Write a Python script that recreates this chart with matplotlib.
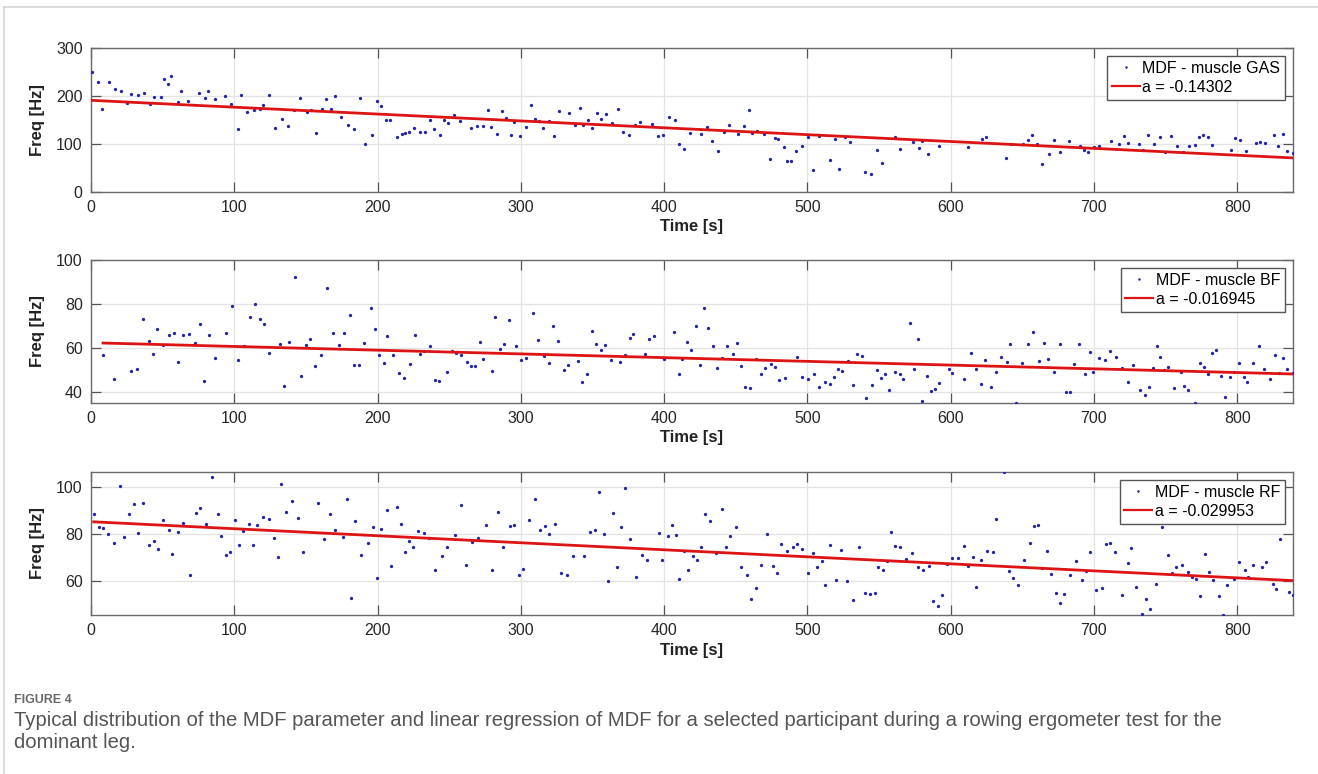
import numpy as np
import matplotlib
matplotlib.use('Agg')
import matplotlib.pyplot as plt
from matplotlib.lines import Line2D

plt.rcParams['font.family'] = ['Liberation Sans', 'DejaVu Sans']

# --- data ---
gas_t = [0.5, 5.1, 7.7, 12.3, 16.7, 20.9, 25.1, 27.7, 32.6, 37, 41.4, 44, 48.6, 51.2, 53.7,
         56, 60.7, 63, 67.9, 75.1, 79.3, 81.8, 86.5, 93.3, 97.7, 102.3, 104.7, 109.1, 113.7, 117.9,
         120.2, 124.4, 128.6, 133, 137.4, 141.6, 146, 150.7, 153.7, 157.2, 161.2, 163.7, 167.7, 170.2, 174.4,
         179.1, 183.3, 187.5, 191.6, 196, 199.8, 202.3, 206, 208.8, 213.3, 216.8, 219.3, 222.3, 225.4, 229.5,
         233.3, 236.7, 239.3, 243.5, 246.3, 249.3,
         253.3, 257.4, 265.3, 269.5, 273.3, 277.2, 279.5, 283.5, 287, 289.5, 293, 295.6, 299.5, 303.7, 307,
         309.8, 313, 315.8, 319.5, 323.5, 326.5, 333.7, 337.7, 341.2, 343.7, 347.2, 349.8, 353.3, 355.8, 359.8,
         363.7, 367.7, 371.6, 375.6, 379.5, 383.5, 391.6, 395.6, 399.5, 403.5, 407.7, 410.2, 413.7, 417.9, 425.8,
         429.8, 433.8, 437.9, 441.9, 445.1, 451.4, 455.6, 459.3, 461.7, 464.7, 469.5, 473.7, 477.2, 479.8, 483.5,
         486.1, 488.6, 492.3, 496, 500.2, 503.9, 508.1, 515.8, 519.3, 522.1, 526.1, 530, 540.2, 544.4, 548.4,
         552.3,
         560.9, 564.4, 574, 577.7, 580, 584.2, 592.1, 612.1, 621.9, 624.5, 638.4, 642.4, 650.3, 653.7, 656.5,
         660, 664, 668.4, 672.4, 676.3, 682.4, 690.2, 693, 696.1, 700, 703.8, 711.9, 717.4, 720.9, 724,
         731.6, 734.5, 738.1, 742.1, 746, 750, 754, 757.9, 762.1, 766.5, 770.5, 773.5, 776.3, 779.5, 782.3,
         796, 798.8, 801.8, 806, 813.3, 816.3, 819.6, 825.6, 828.6, 831.7, 834.7, 838.9]
gas_f = [250, 229.5, 172, 229.5, 214, 210, 185, 204, 202, 207, 183, 197, 197, 235, 225,
         241, 188, 211, 190, 206.5, 195, 210, 193, 201, 183.5, 132, 201.6, 167, 170, 173,
         181, 203, 133, 152, 138, 170, 196, 166, 171, 122, 172, 194, 173, 200, 157,
         139, 132, 196, 99, 118, 190, 179, 149, 149, 114, 121, 122, 124, 133, 125,
         126, 151, 132, 118, 151, 144,
         161, 148, 133, 137, 137, 170, 135, 120, 169.5, 153.5, 118, 146, 116.5, 134.6, 181,
         152, 148, 134, 148.6, 117, 169.5, 165, 140, 174, 139, 151, 134, 165, 152, 162,
         143, 172, 126, 118, 140, 145, 142, 117, 118.6, 157, 151, 100, 88.6, 123.5, 120,
         134.6, 106.7, 86, 125, 140, 120.7, 137, 171, 123.5, 128, 120, 69, 112, 110, 93.5,
         65, 65.6, 84.4, 95, 114, 46.7, 116.5, 67.7, 110, 48, 114, 104.7, 42, 37.7, 86.5,
         61,
         114.4, 88.6, 104.7, 91.4, 106.7, 79.5, 96.3, 93.5, 109.5, 114.4, 69.8, 101, 100.5, 108.8, 118,
         99.8, 58, 78.8, 107.4, 83, 106.7, 95.6, 87.2, 82.3, 94.2, 95.6, 106, 100.5, 117, 101.9,
         100.5, 88, 118.6, 99, 114.4, 82.3, 116.5, 95.6, 83, 95.6, 98.4, 114.4, 119.3, 113.7, 97.7,
         86.5, 113, 107.4, 85.8, 102.6, 104.7, 102.6, 118.6, 95.6, 120.7, 85.8, 81]

bf_t = [8.4, 16.3, 27.9, 32.3, 36.5, 40.5, 43.5, 46.3, 50.5, 54.4, 57.7, 60.7, 64.4, 68.4, 72.3,
        76, 78.6, 82.3, 86.5, 94.4, 98.6, 102.6, 106.5, 110.7, 114.4, 117.7, 120.5, 124, 132.1, 134.7,
        138.1, 142.3, 146.7, 149.8, 152.6, 156.5, 160.7, 164.9, 168.8, 172.8, 176.5, 180.5, 183.3, 187, 190.9,
        195.1, 198.1, 200.9, 204.2, 206.5, 210.9, 214.9, 218.6, 222.6, 226.3, 229.5, 232.5, 236.5, 240, 242.6,
        248.6,
        252.3, 255.1, 258.4, 262.3, 265.1, 268.2, 271.4, 273.7, 279.8, 282.3, 285.4, 288.4, 291.9, 296.5, 300.2,
        303.5, 308.6, 311.9, 316.3, 320, 322.8, 326.1, 330.2, 332.8, 340, 342.6, 346.4, 349.8, 352.7, 356.2,
        359, 362.7, 368.9, 372.8, 375.9, 378.6, 387, 389.8, 392.8, 400, 406.7, 410.2, 412.8, 416.3, 419,
        422.3, 424.9, 428.1, 430.9, 433.9, 436.7, 440.5, 444.2, 448.1, 450.7, 454, 456.8, 460, 464.5, 467.4,
        470.2, 474.4, 477.2, 480.5, 484.6, 492.6, 496.3, 500.7, 504.4, 508.4, 512.6, 515.8, 518.6, 521.7, 524.5,
        528.6, 531.9, 534.9, 538.1, 540.7, 545.1, 548.8, 551.2, 554.2, 556.8,
        561.4, 564.4, 566.8, 571.4, 574.7, 577.5, 580.2, 583.5, 586.5, 589.1, 591.6, 598.6, 601.2, 609.6, 614,
        617.4, 620.9, 623.9, 627.9, 631.6, 635.1, 639.1, 641.6, 645.6, 649.7, 653.7, 657.4, 661.6, 664.9, 667.9,
        672.1, 676.3, 680.3, 683.3, 686.1, 689.8, 693.5, 697, 699.3, 703.5, 707.7, 711.6, 715.4, 719.5, 723.5,
        727.5, 731.9, 735.4, 738.2, 741, 743.8, 746.3, 749.3, 751.9, 755.8, 760.5, 763, 765.6, 770.3, 774.2,
        777.2, 779.6, 782.8, 785.6, 788.6, 791.4, 795.2, 798, 801.4, 804.7, 807.2, 811.4, 815.1, 819.1, 822.8,
        826.1, 828.9, 832.3, 834.7, 838.9]
bf_f = [56.6, 46.1, 49.4, 50.3, 73.1, 63.1, 57.3, 68.7, 61.3, 66.1, 67, 53.7, 66, 66.3, 62.5,
        70.8, 45.2, 65.8, 55.5, 66.6, 79.2, 54.7, 61.1, 74.3, 80.1, 73.3, 71, 57.9, 61.6, 42.9,
        62.6, 92.1, 47.4, 61.3, 64.3, 51.7, 56.7, 87.2, 66.6, 61.3, 67, 75.1, 52.5, 52.5, 62.3,
        78, 68.6, 56.6, 53.4, 65.4, 56.7, 48.7, 46.5, 52.8, 65.7, 57.3, 58.8, 60.7, 45.5, 45,
        49.1,
        58.8, 57.8, 57, 53.8, 51.7, 51.8, 62.9, 55, 49.7, 74.2, 59.7, 61.9, 72.8, 61, 54.7,
        55.3, 76, 63.7, 56.3, 53.2, 70.2, 63.1, 49.9, 52.5, 54.1, 44.4, 48.2, 67.6, 62, 59.1,
        61.3, 54.7, 53.8, 56.6, 64.5, 66.4, 57.5, 64.2, 65.4, 54.9, 67.2, 48.2, 55.2, 62.8, 59,
        69.9, 52.3, 78, 69.3, 60.7, 50.8, 55.5, 60.7, 57.2, 62.2, 51.8, 42.3, 42, 55, 48.2,
        50.8, 52.9, 51.5, 45.5, 46.2, 55.8, 46.8, 45.9, 48, 42.3, 44.4, 43.8, 46.8, 50.6, 49.6,
        54.1, 43.3, 57.5, 56.3, 37.1, 43, 49.9, 46.2, 48.4, 40.9,
        49.1, 48.2, 46.1, 71.4, 50.6, 64.3, 35.9, 47.1, 40.5, 41.5, 44.1, 50.6, 48.7, 46.1, 57.8,
        50.5, 43.6, 54.4, 42.4, 49.3, 56, 53.8, 61.6, 35, 53.1, 61.6, 67.2, 54.3, 62.5, 55.2,
        49, 61.6, 39.8, 39.8, 52.6, 61.6, 48, 58.2, 49.1, 55.5, 54.4, 58.5, 56, 50.9, 44.7,
        52.2, 40.8, 38.5, 42.4, 50.9, 60.8, 56.1, 50.2, 51.4, 41.8, 49, 42.9, 40.9, 35, 53.1,
        51.5, 48.4, 57.8, 59.1, 47.4, 37.7, 46.7, 49.3, 53.1, 46.8, 44.4, 53.4, 60.8, 50.6, 46.1,
        56.6, 48.8, 55.5, 50.6, 48.5]

rf_t = [1.9, 5.3, 8.1, 12.1, 16.3, 20, 22.8, 26.3, 30, 32.8, 36.3, 40.7, 44.2, 47, 50.2,
        54.4, 56.7, 60.5, 64.2, 68.8, 73, 76.3, 80.5, 84.2, 88.4, 90.7, 94.2, 96.8, 100.5, 103,
        106.3, 110.2, 112.8, 115.8, 120, 124, 127.7, 130.2, 132.8, 136, 140.5, 144.4, 148.1, 158.2, 162.6,
        167, 170.5, 175.6, 178.6, 181.2, 184.4, 188.4, 193.3, 196.5, 199.3, 202.5, 206.3, 209.1, 213.3, 216.3,
        219.1, 221.9, 224.7, 228.4, 232.1, 235.8, 240, 244.7, 248.8,
        254, 258.2, 261.6, 265.8, 269.8, 275.6, 279.8, 284, 287.9, 292.3, 295.6, 298.6, 301.6, 305.8, 309.8,
        313.7, 316.7, 320, 323.7, 327.9, 332.1, 336.5, 344.2, 348.2, 352.1, 354.9, 358.1, 361.2, 364.2, 367,
        370, 372.8, 376.1, 380.5, 384.7, 388.4, 396.3, 398.9, 402.4, 405.2, 408, 410.5, 413.9, 416.7, 420.2,
        423, 425.6, 428.6, 432.3, 436.3, 440.5, 443, 446.3, 450, 454, 457.9, 460.5, 464, 467.9, 471.9,
        476.1, 478.9, 481.9, 486.1, 490, 492.8, 496.3, 500.2, 504, 506.8, 510, 512.6, 516.1, 520.2, 523.8,
        527.7, 531.9, 536.3, 540.5, 543.5, 547, 549.5, 552.8, 555.8,
        558.6, 561.4, 564.7, 568.8, 572.8, 577, 581, 584.9, 587.5, 591, 593.8, 597.5, 601.2, 605.1, 609.3,
        612.1, 615.4, 617.9, 621.1, 625.3, 629.5, 631.9, 637.5, 640.7, 643.5, 646.9, 651.2, 655.1, 657.9, 661.2,
        664, 667.2, 670, 673.3, 676.1, 679.5, 683.5, 687.4, 691.4, 694.2, 697.2, 701.2, 705.6, 708.4, 711.2,
        715.1, 719.5, 723.5, 726.1, 729.1, 733.3, 736.5, 739.1, 743.2, 747.4, 751.9, 754.4, 757.2, 761.4, 765.6,
        768.4, 771.2, 774, 777.4, 780.2, 783, 787, 789.8, 793.1, 797.7, 801.2, 805.4, 807.7, 811.4, 817.7,
        820.5, 824.7, 827, 830.2, 836.5, 838.9]
rf_f = [88.4, 83, 82.4, 80, 75.9, 100.4, 78.6, 88.5, 92.9, 80.4, 93.2, 75.3, 76.9, 73.6, 86,
        81.8, 71.6, 81, 84.8, 62.4, 89.1, 90.9, 84.4, 104.1, 88.4, 78.9, 70.8, 72.1, 86, 75.3,
        81.4, 84.4, 75.2, 83.7, 87.2, 86.2, 78.4, 70.2, 101.3, 89.5, 94, 86.8, 72.3, 93, 77.7,
        88.4, 81.8, 78.7, 94.8, 52.6, 85.5, 71.2, 76, 83.1, 61, 82.1, 90.2, 66.5, 91.6, 84.3,
        72.1, 76.9, 74.2, 81.1, 80.4, 78.2, 64.8, 70.5, 74.3,
        79.4, 92.2, 66.8, 76.5, 78.3, 83.7, 64.7, 89.2, 74.6, 83.3, 83.8, 62.6, 65.2, 85.8, 94.9,
        81.7, 83.5, 80, 84.1, 63.4, 62.6, 70.6, 70.4, 80.6, 81.8, 97.7, 80, 59.9, 88.7, 65.7,
        83.1, 99.7, 77.7, 61.6, 70.8, 68.9, 80.4, 68.7, 78.9, 83.8, 79.4, 60.7, 72.6, 64.4, 70.4,
        68.7, 74.3, 88.4, 85.7, 71.9, 90.6, 74.3, 79.1, 83.1, 65.8, 62.3, 52.1, 56.9, 66.7, 80,
        66.5, 63.4, 75.7, 72.8, 74.6, 75.5, 73.5, 63.5, 71.8, 66, 68.4, 58.4, 75.2, 60.3, 73,
        59.7, 51.8, 74.2, 54.8, 54.5, 54.9, 65.8, 64.8, 68.4,
        81, 75, 74.3, 69.5, 71.8, 66, 64.8, 66.5, 51.2, 49.2, 54, 67.2, 69.6, 69.8, 74.9,
        66.1, 70.2, 57.3, 68.7, 72.8, 72.2, 86.2, 106.4, 64.1, 61.1, 58.2, 68.8, 75.9, 83.3, 83.8,
        65.5, 72.8, 62.7, 54.9, 50.6, 54.3, 62.3, 68.5, 60.4, 64.1, 72.1, 56, 57, 75.7, 76,
        72.1, 53.9, 67.7, 73.9, 57.2, 45.8, 52.3, 47.8, 58.6, 82.8, 71.1, 63.5, 65.7, 66.8, 63.8,
        61.4, 60.6, 53.6, 71.3, 63.8, 60.4, 53.5, 45.4, 58.3, 60.6, 68.1, 64.5, 61.7, 66.8, 65.7,
        68.1, 58.6, 56.5, 78, 55.3, 53.9]

muscles = ['GAS', 'BF', 'RF']
slopes = [-0.14302, -0.016945, -0.029953]
intercepts = [191.0, 62.4, 85.2]
ylims = [(0, 300), (35, 100), (45.4, 106.4)]
yticks = [[0, 100, 200, 300], [40, 60, 80, 100], [60, 80, 100]]
xticks = [0, 100, 200, 300, 400, 500, 600, 700, 800]

series = [(gas_t, gas_f), (bf_t, bf_f), (rf_t, rf_f)]

fig = plt.figure(figsize=(13.18, 7.74), dpi=100)
W, H = 1318, 774
# axes boxes in pixels: top, bottom
boxes = [(48, 192), (260, 403), (472, 615)]
left, right = 91, 1293

for i, (t, f) in enumerate(series):
    top, bot = boxes[i]
    ax = fig.add_axes([left / W, 1 - bot / H, (right - left) / W, (bot - top) / H])
    t = np.array(t)
    f = np.array(f)
    ax.plot(t, f, linestyle='none', marker='.', markersize=2.7, color='#2323b0',
            label='MDF - muscle ' + muscles[i], zorder=3)
    tl = np.array([t.min(), t.max()])
    ax.plot(tl, intercepts[i] + slopes[i] * tl, color='#dc1414', linewidth=2.0,
            label='a = ' + format(slopes[i], 'g'), zorder=4)
    ax.set_xlim(0, 839)
    ax.set_ylim(*ylims[i])
    ax.set_xticks(xticks)
    ax.set_yticks(yticks[i])
    ax.grid(True, color='#e3e3e3', linewidth=0.9)
    ax.set_axisbelow(True)
    for s in ax.spines.values():
        s.set_color('#6a6a6a')
        s.set_linewidth(1.0)
    ax.tick_params(direction='in', top=True, right=True, length=7, width=0.9,
                   color='#555555', labelsize=11.5, labelcolor='#262626', pad=6)
    ax.set_xlabel('Time [s]', fontsize=12, fontweight='bold', color='#222222', labelpad=3)
    ax.set_ylabel('Freq [Hz]', fontsize=12, fontweight='bold', color='#222222', labelpad=8)
    leg = ax.legend(loc='upper right', bbox_to_anchor=(1 - 8 / (right - left), 1 - 8 / (bot - top)),
                    borderaxespad=0, fontsize=11.5, frameon=True, fancybox=False,
                    handlelength=1.75, handletextpad=0.15, borderpad=0.3, labelspacing=0.25,
                    markerscale=0.6)
    leg.get_frame().set_edgecolor('#555555')
    leg.get_frame().set_linewidth(1.0)
    leg.get_frame().set_alpha(1)
    leg.get_lines()[1].set_linewidth(1.6)

# page frame lines
fig.add_artist(Line2D([4 / W, 4 / W], [0, 1 - 7 / H], color='#d4d4d4', linewidth=1.2))
fig.add_artist(Line2D([4 / W, 1], [1 - 7 / H, 1 - 7 / H], color='#d4d4d4', linewidth=1.2))

# caption
cap_font = ['Liberation Sans Narrow', 'Liberation Sans', 'DejaVu Sans']
fig.text(14 / W, 1 - 700 / H, 'FIGURE 4', fontsize=9, fontweight='bold', color='#6a6a6a',
         family=cap_font, va='center')
fig.text(14 / W, 1 - 720 / H,
         'Typical distribution of the MDF parameter and linear regression of MDF for a selected '
         'participant during a rowing ergometer test for the',
         fontsize=14.6, color='#555555', family=cap_font, va='center')
fig.text(14 / W, 1 - 743 / H, 'dominant leg.', fontsize=14.6, color='#555555', family=cap_font,
         va='center')

fig.savefig('out.png', dpi=100)
